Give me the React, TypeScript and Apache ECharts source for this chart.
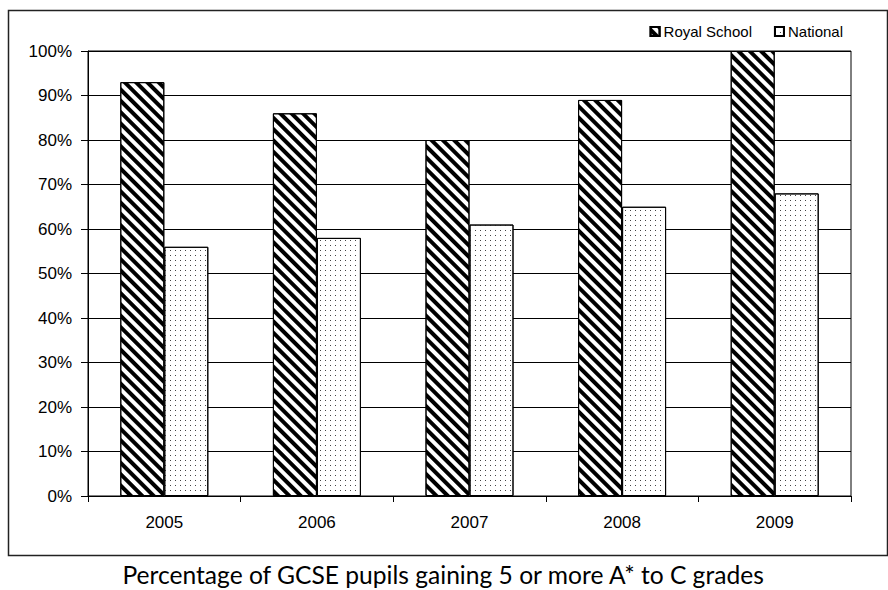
import React, { useEffect, useRef } from "react";
import * as echarts from "echarts";

const categories = ["2005", "2006", "2007", "2008", "2009"];
const royalSchool = [93, 86, 80, 89, 100];
const national = [56, 58, 61, 65, 68];
const seriesNames = ["Royal School", "National"];
const caption = "Percentage of GCSE pupils gaining 5 or more A* to C grades";

export default function App() {
  const ref = useRef<HTMLDivElement>(null);
  useEffect(() => {
    document.body.style.margin = "0";
    const chart = echarts.init(ref.current!, null, { renderer: "svg" });
    const labelFont = "'Liberation Sans', Arial, sans-serif";
    chart.setOption({
      animation: false,
      backgroundColor: "#fff",
      grid: {
        left: 88,
        right: 37,
        top: 51,
        bottom: 94,
        show: true,
        borderColor: "#000",
        borderWidth: 1,
        backgroundColor: "transparent",
      },
      legend: {
        top: 19,
        right: 40,
        itemWidth: 9,
        itemHeight: 9,
        itemGap: 22,
        icon: "rect",
        textStyle: { fontFamily: labelFont, fontSize: 15, color: "#000", padding: [0, 0, 0, -1] },
        data: seriesNames,
      },
      xAxis: {
        type: "category",
        data: categories,
        axisLine: { lineStyle: { color: "#000", width: 1 } },
        axisTick: { show: true, length: 6, lineStyle: { color: "#000" } },
        axisLabel: { fontFamily: labelFont, fontSize: 17, color: "#000", margin: 18 },
      },
      yAxis: {
        type: "value",
        min: 0,
        max: 100,
        interval: 10,
        axisLine: { show: true, lineStyle: { color: "#000", width: 1 } },
        axisTick: { show: true, length: 7, lineStyle: { color: "#000" } },
        splitLine: { show: true, lineStyle: { color: "#000", width: 1 } },
        axisLabel: { fontFamily: labelFont, fontSize: 17, color: "#000", margin: 16, formatter: "{value}%" },
      },
      series: [
        {
          name: seriesNames[0],
          type: "bar",
          data: royalSchool,
          barWidth: 44,
          barGap: "0%",
          itemStyle: {
            color: "#fff",
            borderColor: "#000",
            borderWidth: 1,
            decal: {
              symbol: "rect",
              symbolSize: 1,
              color: "#000",
              backgroundColor: "#fff",
              dashArrayX: [1, 0],
              dashArrayY: [3.5, 3.5],
              rotation: Math.PI / 4,
            },
          },
        },
        {
          name: seriesNames[1],
          type: "bar",
          data: national,
          barWidth: 44,
          barGap: "0%",
          itemStyle: {
            color: "#fff",
            borderColor: "#000",
            borderWidth: 1,
            decal: {
              symbol: "rect",
              symbolSize: 1,
              color: "#444",
              backgroundColor: "#fff",
              dashArrayX: [1, 3.8],
              dashArrayY: [1, 3.6],
              rotation: 0,
            },
          },
        },
      ],
      graphic: [
        {
          type: "rect",
          shape: { x: 8.5, y: 10.5, width: 879, height: 545 },
          style: { fill: "none", stroke: "#222", lineWidth: 1.5 },
          silent: true,
        },
        {
          type: "text",
          left: "center",
          top: 562,
          style: {
            text: caption,
            font: "24.6px Lato, 'Open Sans', sans-serif",
            fill: "#000",
          },
        },
      ],
    });
    return () => chart.dispose();
  }, []);
  return <div ref={ref} style={{ width: 888, height: 590 }} />;
}
